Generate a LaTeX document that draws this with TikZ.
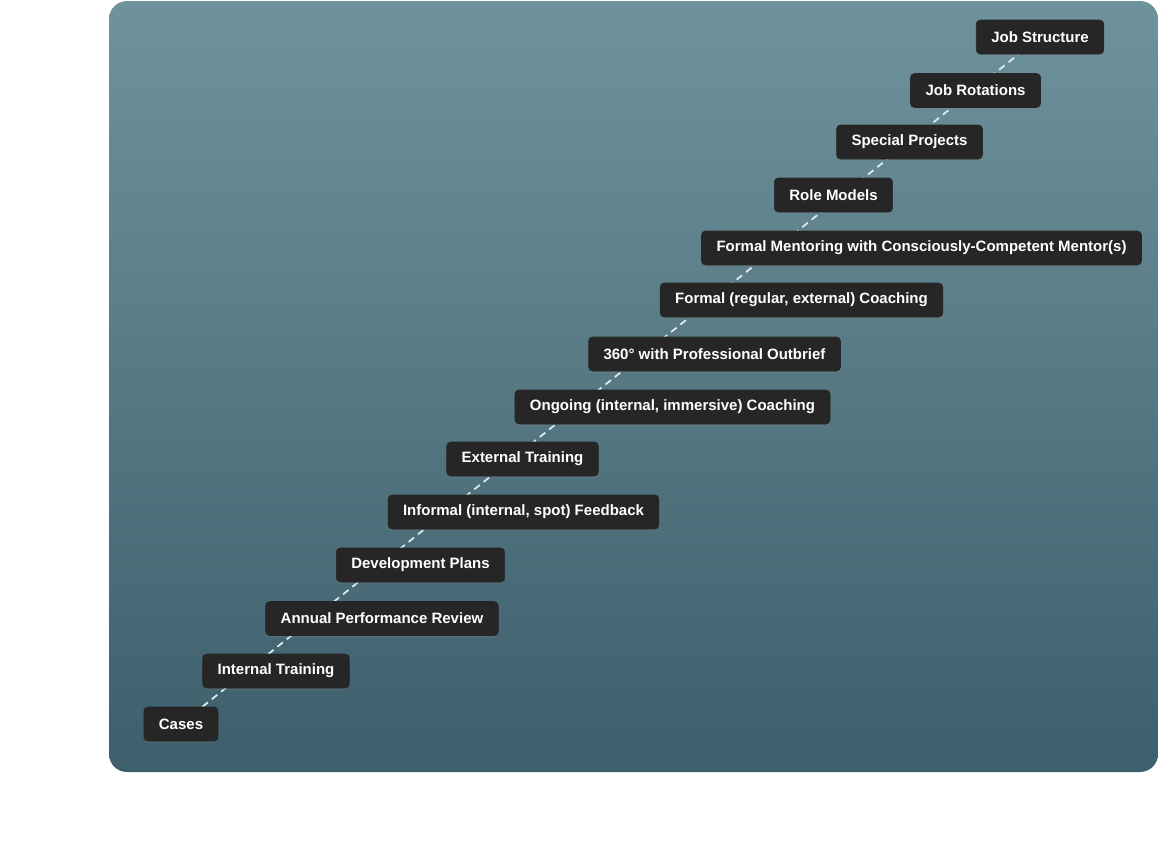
\documentclass[tikz,border=0pt]{standalone}
\usepackage{fontspec}
\setmainfont{Liberation Sans}
\usetikzlibrary{backgrounds,shadows}
\definecolor{paneltop}{RGB}{111,147,156}
\definecolor{panelbottom}{RGB}{61,94,107}
\definecolor{rungfill}{RGB}{38,38,38}
\definecolor{rungline}{RGB}{228,236,238}
\tikzset{
  rung/.style={fill=rungfill, draw=black!85, line width=.6pt, rounded corners=4pt,
    text=white, font=\fontsize{15}{18}\selectfont\bfseries,
    minimum height=34pt, inner xsep=15pt, inner ysep=0pt,
    drop shadow={opacity=.22, shadow xshift=0pt, shadow yshift=-2pt}},
  ladder/.style={rungline, line width=1.7pt, dash pattern=on 7pt off 5pt}
}
\begin{document}
\begin{tikzpicture}[x=1pt, y=-1pt]
  \useasboundingbox (0, 0) rectangle (1158, 852);
  % rungs, bottom to top
  \node [rung] (cases) at (181, 724) {Cases};
  \node [rung] (inttrain) at (276, 671) {Internal Training};
  \node [rung] (review) at (382, 618.5) {Annual Performance Review};
  \node [rung] (devplans) at (420.5, 565) {Development Plans};
  \node [rung] (feedback) at (523.5, 512) {Informal (internal, spot) Feedback};
  \node [rung] (exttrain) at (522.5, 459) {External Training};
  \node [rung] (ongoing) at (672.5, 407) {Ongoing (internal, immersive) Coaching};
  \node [rung] (outbrief) at (714.5, 354) {360° with Professional Outbrief};
  \node [rung] (coaching) at (801.5, 300) {Formal (regular, external) Coaching};
  \node [rung] (mentoring) at (921.5, 248) {Formal Mentoring with Consciously-Competent Mentor(s)};
  \node [rung] (rolemodels) at (833.5, 195) {Role Models};
  \node [rung] (projects) at (909.5, 142) {Special Projects};
  \node [rung] (rotations) at (975.5, 90.5) {Job Rotations};
  \node [rung] (jobstruct) at (1040, 37) {Job Structure};
  \begin{scope}[on background layer]
    \shade [top color=paneltop, bottom color=panelbottom, rounded corners=18pt]
      (109, 1) rectangle (1158, 772);
    \draw [ladder] (cases) -- (jobstruct);
  \end{scope}
\end{tikzpicture}
\end{document}
